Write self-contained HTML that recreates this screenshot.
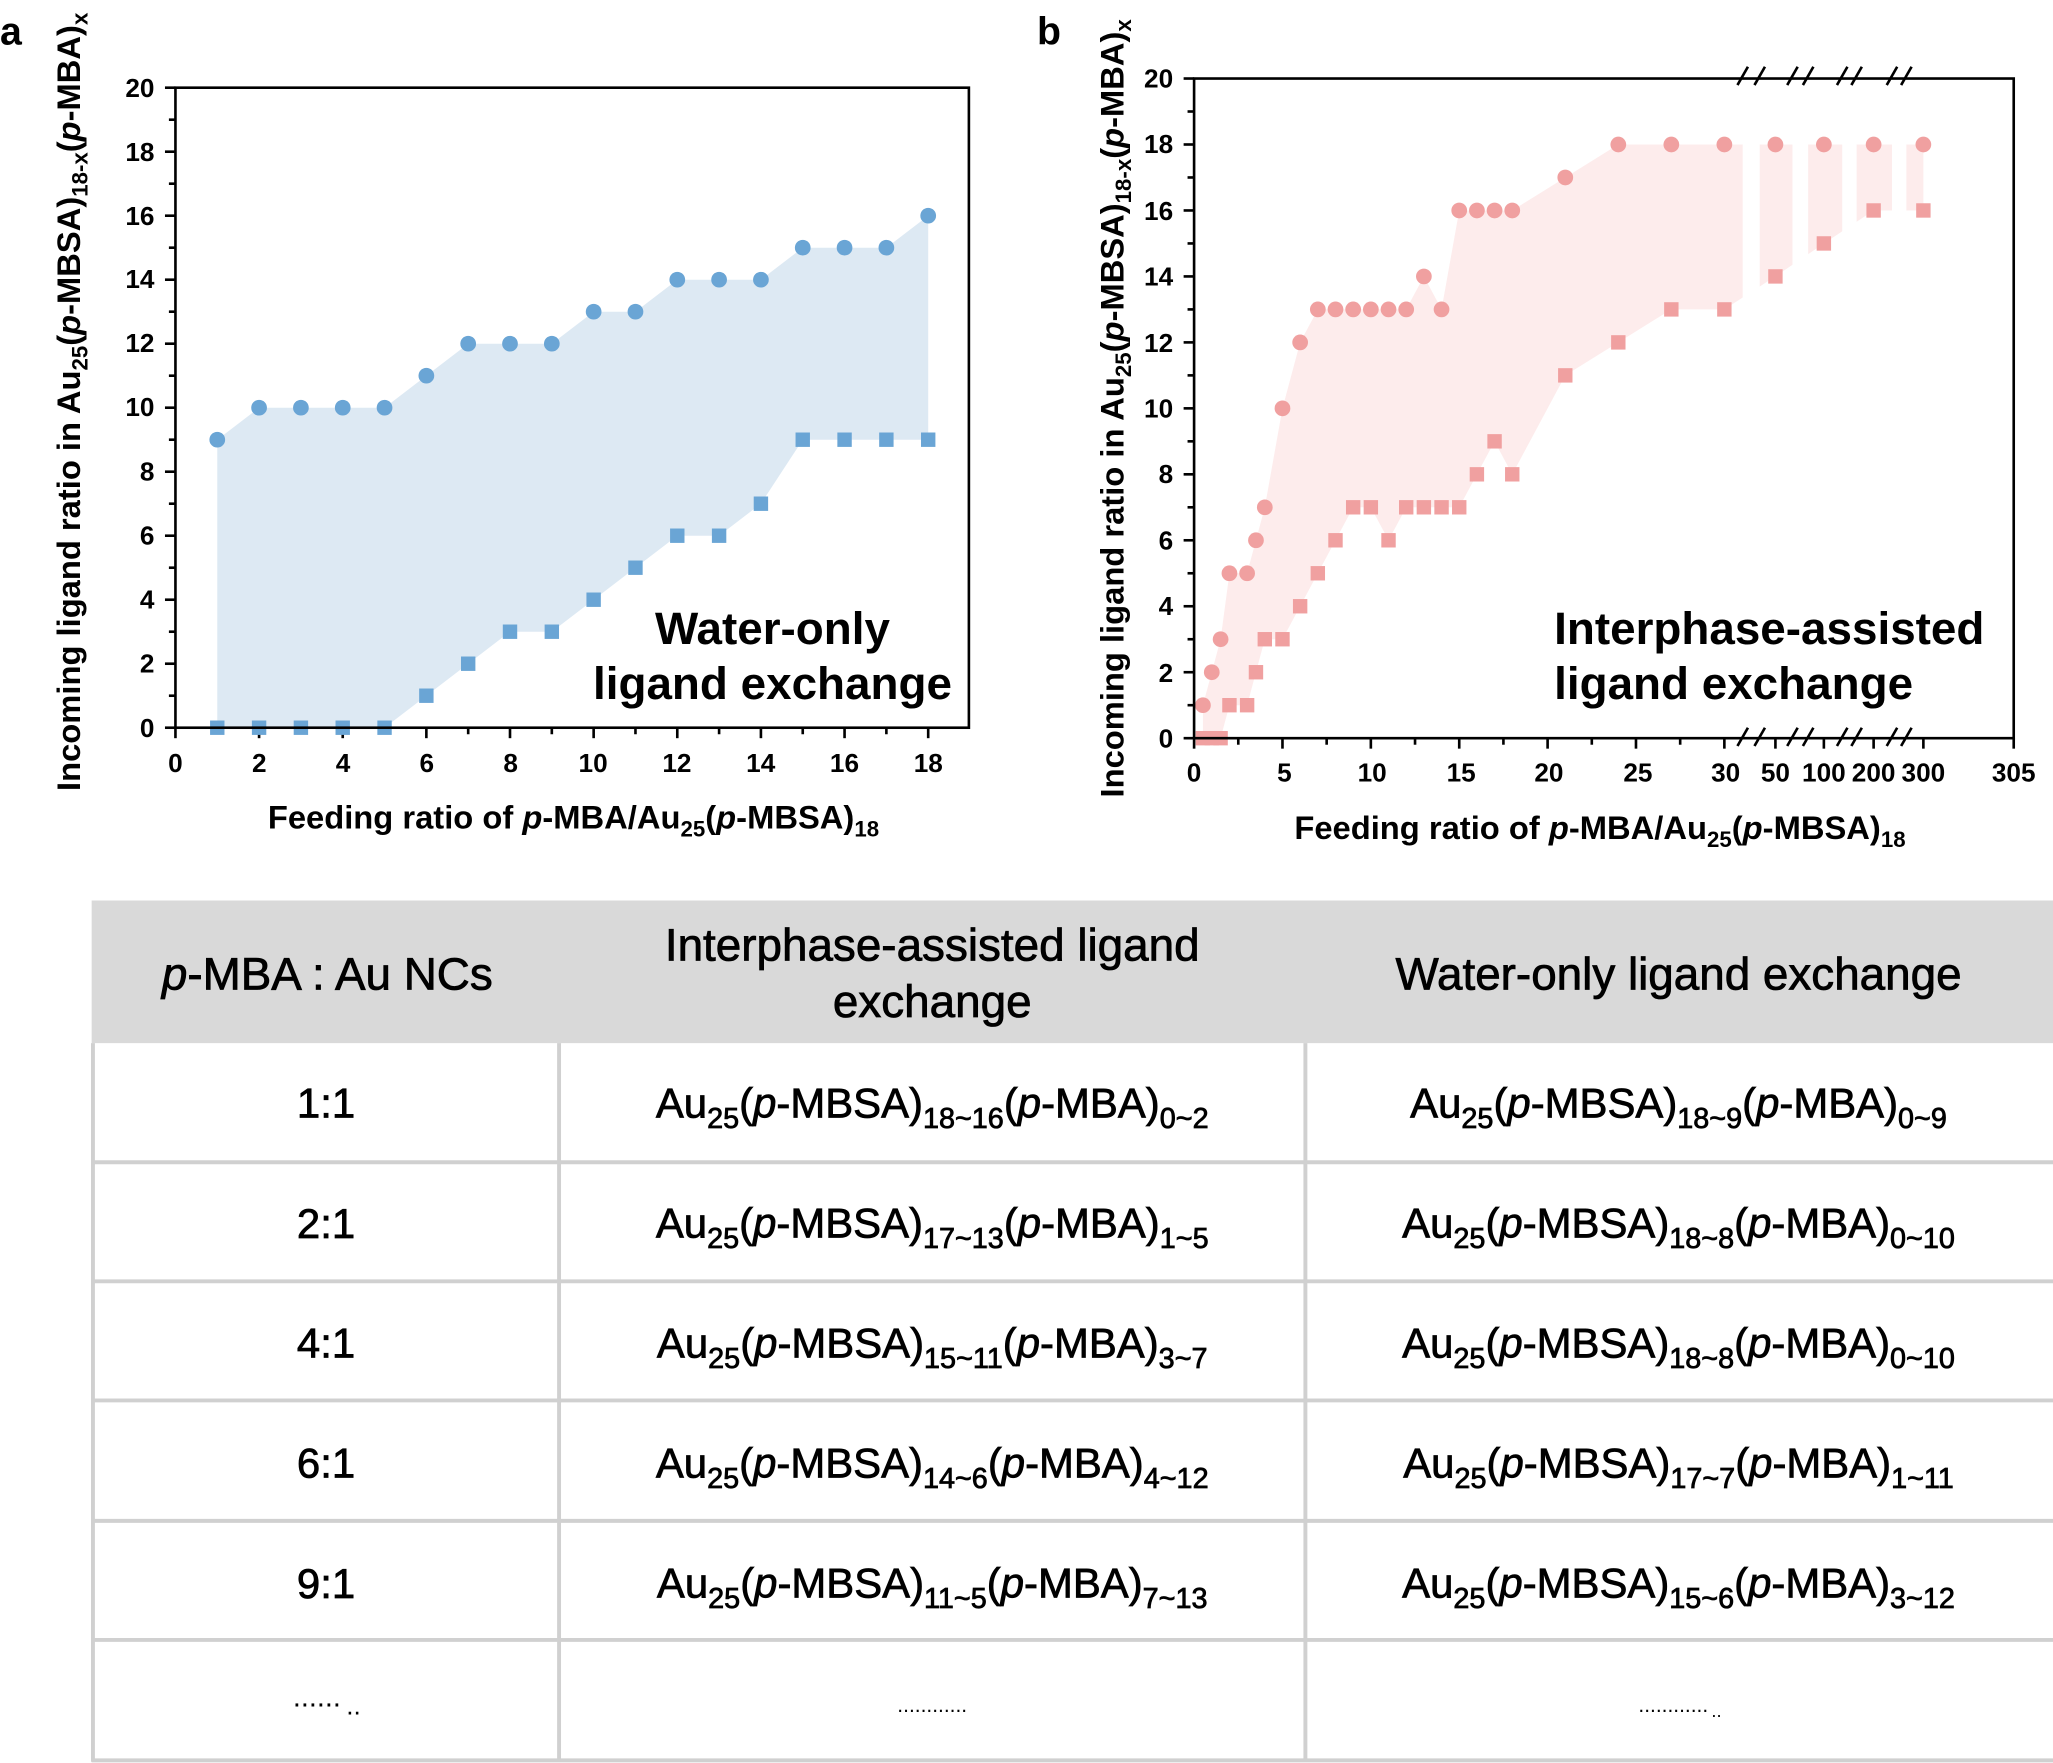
<!DOCTYPE html>
<html><head><meta charset="utf-8"><style>
html,body{margin:0;padding:0;background:#fff;}
svg{display:block;font-family:"Liberation Sans",Arial,sans-serif;}
</style></head><body>
<svg id="s" width="2053" height="1763" viewBox="0 0 1568 1347" preserveAspectRatio="none" xmlns="http://www.w3.org/2000/svg">
<g id="a"></g>
<text x="0" y="34" font-size="30" font-weight="bold">a</text>
<text x="792" y="34" font-size="30" font-weight="bold">b</text>
<!-- panel a -->
<rect x="134" y="67" width="606" height="489" fill="none" stroke="#000" stroke-width="2"/>
<g font-size="20" font-weight="bold" text-anchor="end">
<text x="118" y="563">0</text><text x="118" y="514">2</text><text x="118" y="465">4</text><text x="118" y="416">6</text><text x="118" y="367">8</text><text x="118" y="318">10</text><text x="118" y="269">12</text><text x="118" y="220">14</text><text x="118" y="172">16</text><text x="118" y="123">18</text><text x="118" y="74">20</text>
</g>
<g font-size="20" font-weight="bold" text-anchor="middle">
<text x="134" y="590">0</text><text x="198" y="590">2</text><text x="262" y="590">4</text><text x="326" y="590">6</text><text x="390" y="590">8</text><text x="453" y="590">10</text><text x="517" y="590">12</text><text x="581" y="590">14</text><text x="645" y="590">16</text><text x="709" y="590">18</text>
</g>
<text x="438" y="633" font-size="25" font-weight="bold" text-anchor="middle">Feeding ratio of <tspan font-style="italic">p</tspan>-MBA/Au<tspan font-size="17" dy="6">25</tspan><tspan dy="-6">(</tspan><tspan font-style="italic">p</tspan>-MBSA)<tspan font-size="17" dy="6">18</tspan></text>
<text transform="translate(61,307) rotate(-90)" font-size="25" font-weight="bold" text-anchor="middle">Incoming ligand ratio in Au<tspan font-size="17" dy="6">25</tspan><tspan dy="-6">(</tspan><tspan font-style="italic">p</tspan>-MBSA)<tspan font-size="17" dy="6">18-x</tspan><tspan dy="-6">(</tspan><tspan font-style="italic">p</tspan>-MBA)<tspan font-size="17" dy="6">x</tspan></text>
<text x="590" y="492" font-size="35" font-weight="bold" text-anchor="middle">Water-only</text>
<text x="590" y="534" font-size="35" font-weight="bold" text-anchor="middle">ligand exchange</text>
<!-- panel b -->
<rect x="912" y="60" width="626" height="504" fill="none" stroke="#000" stroke-width="2"/>
<g font-size="20" font-weight="bold" text-anchor="end">
<text x="896" y="571">0</text><text x="896" y="521">2</text><text x="896" y="470">4</text><text x="896" y="420">6</text><text x="896" y="369">8</text><text x="896" y="319">10</text><text x="896" y="269">12</text><text x="896" y="218">14</text><text x="896" y="168">16</text><text x="896" y="117">18</text><text x="896" y="67">20</text>
</g>
<g font-size="20" font-weight="bold" text-anchor="middle">
<text x="912" y="597">0</text><text x="981" y="597">5</text><text x="1048" y="597">10</text><text x="1116" y="597">15</text><text x="1183" y="597">20</text><text x="1251" y="597">25</text><text x="1318" y="597">30</text><text x="1356" y="597">50</text><text x="1393" y="597">100</text><text x="1431" y="597">200</text><text x="1469" y="597">300</text><text x="1538" y="597">305</text>
</g>
<text x="1222" y="641" font-size="25" font-weight="bold" text-anchor="middle">Feeding ratio of <tspan font-style="italic">p</tspan>-MBA/Au<tspan font-size="17" dy="6">25</tspan><tspan dy="-6">(</tspan><tspan font-style="italic">p</tspan>-MBSA)<tspan font-size="17" dy="6">18</tspan></text>
<text transform="translate(858,312) rotate(-90)" font-size="25" font-weight="bold" text-anchor="middle">Incoming ligand ratio in Au<tspan font-size="17" dy="6">25</tspan><tspan dy="-6">(</tspan><tspan font-style="italic">p</tspan>-MBSA)<tspan font-size="17" dy="6">18-x</tspan><tspan dy="-6">(</tspan><tspan font-style="italic">p</tspan>-MBA)<tspan font-size="17" dy="6">x</tspan></text>
<text x="1187" y="492" font-size="35" font-weight="bold">Interphase-assisted</text>
<text x="1187" y="534" font-size="35" font-weight="bold">ligand exchange</text>
<!-- table -->
<rect x="70" y="688" width="1498" height="109" fill="#d9d9d9"/>
<g stroke="#d0d0d0" stroke-width="3" fill="none">
<line x1="71" y1="797" x2="71" y2="1346"/><line x1="427" y1="797" x2="427" y2="1346"/><line x1="997" y1="797" x2="997" y2="1346"/>
<line x1="70" y1="888" x2="1568" y2="888"/><line x1="70" y1="979" x2="1568" y2="979"/><line x1="70" y1="1070" x2="1568" y2="1070"/><line x1="70" y1="1162" x2="1568" y2="1162"/><line x1="70" y1="1253" x2="1568" y2="1253"/><line x1="70" y1="1345" x2="1568" y2="1345"/>
</g>
<g font-size="35" text-anchor="middle" stroke="#000" stroke-width="0.6">
<text x="250" y="756"><tspan font-style="italic">p</tspan>-MBA : Au NCs</text>
<text x="712" y="734">Interphase-assisted ligand</text>
<text x="712" y="777">exchange</text>
<text x="1282" y="756">Water-only ligand exchange</text>
</g>
<g font-size="32" text-anchor="middle" stroke="#000" stroke-width="0.6">
<text x="249" y="854">1:1</text><text x="249" y="946">2:1</text><text x="249" y="1037">4:1</text><text x="249" y="1129">6:1</text><text x="249" y="1221">9:1</text>
</g>
<g text-anchor="middle">
<text x="242" y="1304" font-size="22">......</text><text x="270" y="1310" font-size="20">..</text>
<text x="712" y="1308" font-size="16">............</text>
<text x="1278" y="1308" font-size="16">............</text><text x="1311" y="1312" font-size="14">..</text>
</g>
<g id="cells" font-size="32" text-anchor="middle" stroke="#000" stroke-width="0.6"></g>
</svg>
<script>
var NS="http://www.w3.org/2000/svg",A=document.getElementById('a');
function el(t,o){var e=document.createElementNS(NS,t);for(var k in o)e.setAttribute(k,o[k]);A.appendChild(e);return e;}
function ln(x1,y1,x2,y2){el('line',{x1:x1,y1:y1,x2:x2,y2:y2,stroke:"#000","stroke-width":2});}
// panel a
function ax(x){return 134+x*31.94}function ay(y){return 556-y*24.45}
var ca=[9,10,10,10,10,11,12,12,12,13,13,14,14,14,15,15,15,16],sa=[0,0,0,0,0,1,2,3,3,4,5,6,6,7,9,9,9,9];
var p="";for(var i=0;i<18;i++)p+=(i?"L":"M")+ax(i+1)+","+ay(ca[i]);for(i=17;i>=0;i--)p+="L"+ax(i+1)+","+ay(sa[i]);
el('path',{d:p+"Z",fill:"#dde9f3"});
for(i=0;i<=18;i++)ln(ax(i),556,ax(i),556+(i%2?5:8));
for(i=0;i<=20;i++)ln(134,ay(i),134-(i%2?5:8),ay(i));
for(i=0;i<18;i++){el('circle',{cx:ax(i+1),cy:ay(ca[i]),r:6,fill:"#6aa5d5"});el('rect',{x:ax(i+1)-5.5,y:ay(sa[i])-5.5,width:11,height:11,fill:"#6aa5d5"});}
// panel b
var map={50:1356,100:1393,200:1431,300:1469};
function bx(x){return map[x]||912+x*13.5}function by(y){return 564-y*25.2}
var xs=[0.5,1,1.5,2,3,3.5,4,5,6,7,8,9,10,11,12,13,14,15,16,17,18,21,24,27,30,50,100,200,300];
var cb=[1,2,3,5,5,6,7,10,12,13,13,13,13,13,13,14,13,16,16,16,16,17,18,18,18,18,18,18,18];
var sb=[0,0,0,1,1,2,3,3,4,5,6,7,7,6,7,7,7,7,8,9,8,11,12,13,13,14,15,16,16];
p="";for(i=0;i<xs.length;i++)p+=(i?"L":"M")+bx(xs[i])+","+by(cb[i]);for(i=xs.length-1;i>=0;i--)p+="L"+bx(xs[i])+","+by(sb[i]);
el('path',{d:p+"Z",fill:"#fdecec"});
for(i=0;i<=20;i++)ln(912,by(i),912-(i%2?5:8),by(i));
for(i=0;i<=12;i++)ln(912+i*13.5*2.5,564,912+i*13.5*2.5,564+(i%2?5:8));
[1356,1393,1431,1469,1538].forEach(function(x){ln(x,564,x,572);});
[[1331,1344],[1369,1381],[1407,1418],[1445,1456]].forEach(function(g){el('rect',{x:g[0],y:100,width:g[1]-g[0],height:470,fill:"#fff"});
 [58,563].forEach(function(yy){el('rect',{x:g[0],y:yy-3,width:g[1]-g[0],height:6,fill:"#fff"});
 ln(g[0]-4,yy+7,g[0]+4,yy-7);ln(g[1]-4,yy+7,g[1]+4,yy-7);});});
for(i=0;i<xs.length;i++){el('circle',{cx:bx(xs[i]),cy:by(cb[i]),r:6,fill:"#f0a0a0"});el('rect',{x:bx(xs[i])-5.5,y:by(sb[i])-5.5,width:11,height:11,fill:"#f0a0a0"});}
// table formulas
var C=document.getElementById('cells');
var rows=[["18~16","0~2","18~9","0~9"],["17~13","1~5","18~8","0~10"],["15~11","3~7","18~8","0~10"],["14~6","4~12","17~7","1~11"],["11~5","7~13","15~6","3~12"]];
rows.forEach(function(r,k){var y=854+k*91.6;[[712,r[0],r[1]],[1282,r[2],r[3]]].forEach(function(c){
 var t=document.createElementNS(NS,'text');t.setAttribute('x',c[0]);t.setAttribute('y',y);
 t.innerHTML='Au<tspan font-size="22" dy="8">25</tspan><tspan dy="-8">(</tspan><tspan font-style="italic">p</tspan>-MBSA)<tspan font-size="22" dy="8">'+c[1]+'</tspan><tspan dy="-8">(</tspan><tspan font-style="italic">p</tspan>-MBA)<tspan font-size="22" dy="8">'+c[2]+'</tspan>';
 C.appendChild(t);});});
</script>
</body></html>
